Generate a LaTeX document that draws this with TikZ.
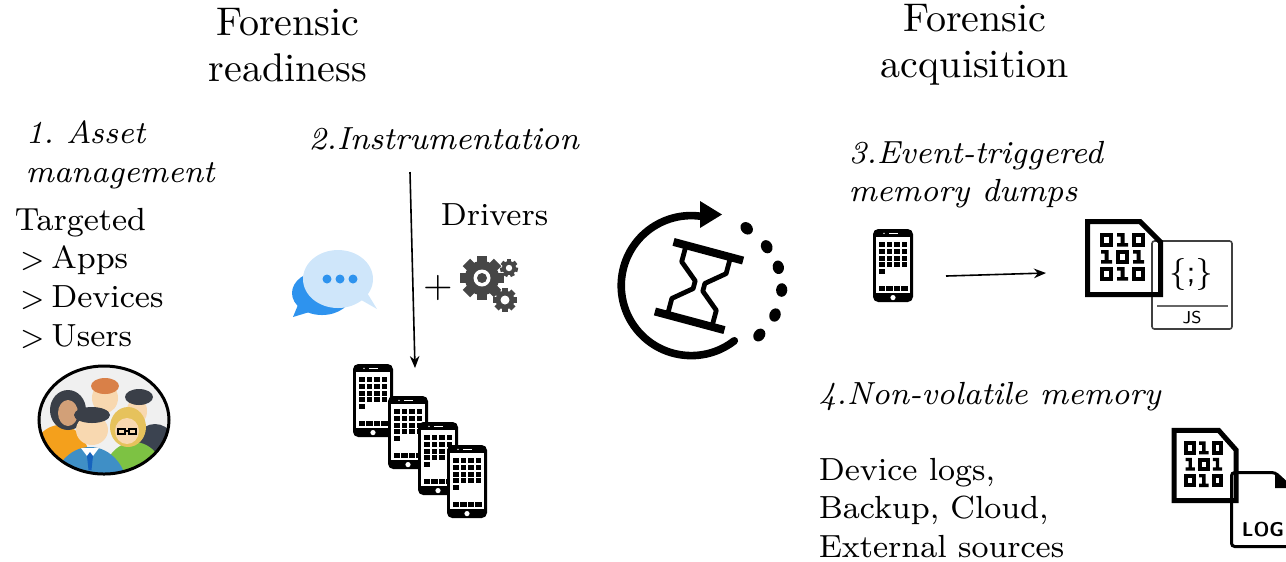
\documentclass[tikz,border=0pt]{standalone}
\usepackage{xcolor}
\usepackage{tikz}
\usetikzlibrary{arrows.meta,positioning}

\definecolor{chatdark}{HTML}{2E93EE}
\definecolor{chatlight}{HTML}{CFE6FA}
\definecolor{gearcol}{HTML}{464646}
\definecolor{skin}{HTML}{F8D8B0}
\definecolor{skintan}{HTML}{D2A078}
\definecolor{hairdark}{HTML}{3A3F48}
\definecolor{hairorange}{HTML}{D98048}
\definecolor{hairblond}{HTML}{E6C25C}
\definecolor{shirtorange}{HTML}{F4A01C}
\definecolor{shirtgreen}{HTML}{7DC243}
\definecolor{shirtblue}{HTML}{3F8FC6}
\definecolor{suitdark}{HTML}{3B4350}
\definecolor{tieblue}{HTML}{1663BE}

% Smartphone glyph: name, left x, top y.
\newcommand{\phone}[3]{%
  \begin{scope}[shift={(#2,-#3)}]
    \fill[rounded corners=1.3pt] (0,0) rectangle (40,-73);
    \fill[white] (3,-8) rectangle (37,-64);
    \foreach \r in {0,...,3}
      \foreach \c in {0,...,3}
        \fill (6+7.5*\c,-13.3-6.7*\r) rectangle ++(5.5,-4.8);
    \fill (6,-40.1) rectangle ++(5.5,-4.8);
    \foreach \c in {0,...,3}
      \fill (5.5+7.5*\c,-57) rectangle ++(6.5,-4.5);
    \fill[white] (20,-68.6) circle (2.6);
    \fill[white] (11,-4.4) circle (0.8);
    \fill[white] (15.5,-3.9) rectangle (24.5,-4.9);
  \end{scope}
  \node[inner sep=0pt, minimum width=10pt, minimum height=18.25pt] (#1) at (#2+20,-#3-36.5) {};
}

% Gear wheel: centre x, centre y, outer radius, teeth.
\newcommand{\gear}[4]{%
  \begin{scope}[shift={(#1,#2)}]
    \fill[gearcol] (0,0) circle ({0.78*#3});
    \foreach \t in {1,...,#4}
      \fill[gearcol, rotate={\t*360/#4}] ({-0.24*#3},0) rectangle ({0.24*#3},#3);
  \end{scope}
}

% Binary file with a cut corner, top-left at the origin.
\newcommand{\binfile}{%
  \draw[line width=1.25pt, line join=miter] (2.5,-2.5) -- (55,-2.5) -- (75.5,-23) -- (75.5,-75.5) -- (2.5,-75.5) -- cycle;
  \foreach \c/\r in {0/0,2/0,1/1,0/2,2/2}
    \draw[line width=1pt, shift={(15+16*\c,-14-17*\r)}] (2,-2) rectangle (11,-11.5);
  \foreach \c/\r in {1/0,0/1,2/1,1/2}
    \fill[shift={(15+16*\c,-14-17*\r)}] (4.5,0) rectangle (8.5,-13.5) (1,0) rectangle (8.5,-3.5) (1,-10) rectangle (12,-13.5);
}

% Bullet marker for the target list.
\newcommand{\gtmark}{\hspace*{1.3pt}{\fontsize{7}{8}\selectfont>}\hspace{1.6pt}}

\begin{document}
\begin{tikzpicture}[
  x=0.25pt,
  y=0.25pt,
  title/.style={font=\fontsize{10}{11.5}\selectfont, align=center, inner sep=0pt},
  phase/.style={font=\fontsize{8}{9.7}\selectfont\itshape, align=left, anchor=north west, inner sep=0pt},
  plain/.style={font=\fontsize{8}{9.7}\selectfont, align=left, anchor=north west, inner sep=0pt},
  link/.style={line width=0.4pt, -{Stealth[length=3pt,width=2.4pt]}},
]
\useasboundingbox (0,0) rectangle (1286,-561);

% Titles.
\node[title] (readiness) at (288,-45) {Forensic\\readiness};
\node[title] (acquisition) at (975,-45) {Forensic\\acquisition};

% 1. Asset management.
\node[phase] (asset) at (25,-120) {1.\ Asset\\management};
\node[plain] (targets) at (14,-207) {Targeted\\\gtmark Apps\\\gtmark Devices\\\gtmark Users};

% Users in a round badge.
\begin{scope}
  \clip (104,-420) ellipse [x radius=65, y radius=54];
  \fill[gray!12] (104,-420) ellipse [x radius=65, y radius=54];
  \fill[shirtorange] (60,-463) ellipse [x radius=30, y radius=38];
  \fill[suitdark] (155,-460) ellipse [x radius=26, y radius=36];
  \fill[hairdark] (68,-410) ellipse [x radius=18, y radius=20];
  \fill[skintan] (68,-413) ellipse [x radius=10, y radius=13];
  \fill[skin] (137,-411) ellipse [x radius=10, y radius=14];
  \fill[hairdark] (139,-397) ellipse [x radius=14, y radius=8];
  \fill[skin] (105,-398) ellipse [x radius=13, y radius=15];
  \fill[hairorange] (105,-386) ellipse [x radius=14, y radius=8];
  \fill[shirtgreen] (134,-482) ellipse [x radius=32, y radius=40];
  \fill[hairblond] (128,-427) ellipse [x radius=18, y radius=20];
  \fill[skin] (127,-431) ellipse [x radius=12, y radius=13];
  \draw[line width=0.35pt] (118,-429) rectangle (125,-434) (129,-429) rectangle (136,-434) (125,-431) -- (129,-431);
  \fill[shirtblue] (90,-492) ellipse [x radius=38, y radius=45];
  \fill[white] (81,-448) -- (90,-460) -- (99,-448) -- cycle;
  \fill[skin] (92,-430) ellipse [x radius=16, y radius=15];
  \fill[hairdark] (92,-415) ellipse [x radius=18, y radius=8];
  \fill[tieblue] (90,-452) -- (93,-456) -- (91.5,-470) -- (88.5,-470) -- (87,-456) -- cycle;
\end{scope}
\draw[line width=0.75pt] (104,-420) ellipse [x radius=65, y radius=54];

% 2. Instrumentation.
\node[phase] (instr) at (308,-127) {2.Instrumentation};
\node[plain] (drivers) at (440,-203) {Drivers};
\node[font=\fontsize{9.5}{10}\selectfont, inner sep=0pt] (plus) at (438,-288) {+};

% Chat bubbles.
\fill[chatdark] (322,-293) ellipse [x radius=30, y radius=22];
\fill[chatdark] (300,-300) -- (293,-317) -- (316,-310) -- cycle;
\fill[chatlight] (338,-279) ellipse [x radius=35, y radius=29];
\fill[chatlight] (356,-297) -- (377,-309) -- (366,-291) -- cycle;
\foreach \x in {327,340,353}
  \fill[chatdark] (\x,-279) circle (4.5);

% Gears.
\gear{482}{-278}{22}{8}
\fill[white] (482,-278) circle (8.5);
\fill[gearcol] (482,-278) circle (5);
\gear{509}{-268}{9}{7}
\fill[white] (509,-268) circle (3.2);
\gear{505}{-300}{12}{8}
\fill[white] (505,-300) circle (4.5);

% Instrumented phones.
\phone{ph1}{353}{364}
\phone{ph2}{388}{396}
\phone{ph3}{418}{422}
\phone{ph4}{447}{445}
\coordinate (instr-in) at (410,-172);
\coordinate (stack-in) at (415,-368);
\draw[link] (instr-in) -- (stack-in);

% Hourglass in a cycle.
\draw[line width=1.9pt, line cap=round] (690,-284) ++(-52:72) arc[start angle=-52, end angle=-278, radius=70];
\fill (700,-201) -- (722,-214.5) -- (700,-228) -- cycle;
\foreach \x/\y/\a in {746.7/-228.3/134.5, 766.7/-246.7/115.7, 778.3/-267.3/101, 781.7/-290/86.3, 775/-315/70, 759.3/-335/53.5}
  \fill[rotate around={\a:(\x,\y)}] (\x,\y) ellipse [x radius=6.8, y radius=5.6];
\begin{scope}[shift={(699,-286)}, rotate=-15]
  \fill (-36,32) rectangle (36,40);
  \fill (-36,-40) rectangle (36,-32);
  \draw[line width=1.2pt, line join=round] (-23,33) -- (-23,19) -- (-5,4) -- (-5,-4) -- (-23,-19) -- (-23,-33);
  \draw[line width=1.2pt, line join=round] (23,33) -- (23,19) -- (5,4) -- (5,-4) -- (23,-19) -- (23,-33);
\end{scope}

% 3. Event-triggered memory dumps.
\node[phase] (dumps) at (848,-140) {3.Event-triggered\\memory dumps};
\phone{dumpphone}{873}{229}
\coordinate (dump-out) at (946,-276);
\coordinate (dump-in) at (1046,-273);
\draw[link] (dump-out) -- (dump-in);
\draw[line width=0.4pt, draw=black!75, rounded corners=0.6pt] (1152,-241) rectangle (1232,-329);
\draw[line width=0.4pt, draw=black!60] (1157,-306) -- (1228,-306);
\node[font=\fontsize{8}{9}\sffamily, inner sep=0pt] (jsbraces) at (1191,-274) {\{;\}};
\node[font=\fontsize{4.3}{5}\sffamily, inner sep=0pt] (jslabel) at (1192,-317.5) {JS};
\begin{scope}[shift={(1085,-219)}]
  \binfile
\end{scope}

% 4. Non-volatile memory.
\node[phase] (nonvol) at (818,-381) {4.Non-volatile memory};
\node[plain] (sources) at (818,-457) {Device logs,\\Backup, Cloud,\\External sources};
\draw[line width=0.75pt, rounded corners=0.8pt] (1292,-488) -- (1275,-472.5) -- (1231.5,-472.5) -- (1231.5,-546.5) -- (1295,-546.5);
\fill (1275,-472.5) -- (1275,-488) -- (1292,-488) -- cycle;
\node[font=\fontsize{5}{6}\sffamily\bfseries, inner sep=0pt] (loglabel) at (1263,-530) {LOG};
\begin{scope}[shift={(1172,-428)}, xscale=0.85, yscale=0.96]
  \binfile
\end{scope}

\end{tikzpicture}
\end{document}
